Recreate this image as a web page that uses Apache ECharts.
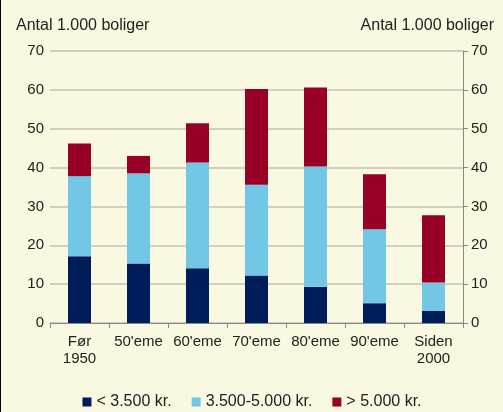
<!DOCTYPE html>
<html>
<head>
<meta charset="utf-8">
<script src="https://cdn.jsdelivr.net/npm/echarts@6/dist/echarts.min.js"></script>
<style>
  html, body { margin: 0; padding: 0; background: #f9f8e1; }
  #chart { width: 503px; height: 412px; box-sizing: border-box; border-left: 1px solid #000; }
</style>
</head>
<body>
<div id="chart"></div>
<script>
const categories = ['Før\n1950', "50'eme", "60'eme", "70'eme", "80'eme", "90'eme", 'Siden\n2000']
const seriesNames = ['< 3.500 kr.', '3.500-5.000 kr.', '> 5.000 kr.']
const lowRent = [17.2, 15.3, 14.1, 12.2, 9.3, 5.1, 3.1]
const midRent = [20.6, 23.2, 27.2, 23.4, 31.0, 19.0, 7.3]
const highRent = [8.4, 4.5, 10.1, 24.6, 20.3, 14.2, 17.3]
const colors = ['#001c5a', '#73c7e6', '#990028']

const chart = echarts.init(document.getElementById('chart'))
const font = 'Liberation Sans, Arial, sans-serif'
const yAxisBase = {
  type: 'value',
  min: 0,
  max: 70,
  interval: 10,
  axisLabel: { color: '#222', fontSize: 15, fontFamily: font },
  nameTextStyle: { color: '#222', fontSize: 16, fontFamily: font }
}
chart.setOption({
  backgroundColor: '#f9f8e1',
  animation: false,
  textStyle: { fontFamily: font },
  grid: { left: 49, right: 40, top: 51, bottom: 89, containLabel: false },
  legend: {
    top: 389,
    left: 'center',
    itemWidth: 9,
    itemHeight: 9,
    itemGap: 20,
    itemTextGap: 4,
    icon: 'rect',
    textStyle: { color: '#222', fontSize: 16, fontFamily: font },
    data: seriesNames
  },
  xAxis: {
    type: 'category',
    data: categories,
    axisLine: { show: true, lineStyle: { color: '#888', width: 1 } },
    axisTick: { show: true, length: 5, lineStyle: { color: '#888' } },
    axisLabel: { interval: 0, color: '#222', fontSize: 15, fontFamily: font, lineHeight: 17, margin: 10 }
  },
  yAxis: [
    Object.assign({}, yAxisBase, {
      position: 'left',
      name: 'Antal 1.000 boliger',
      nameLocation: 'end',
      nameGap: 17,
      nameTextStyle: Object.assign({}, yAxisBase.nameTextStyle, { align: 'left', padding: [0, 0, 0, -34] }),
      axisLabel: Object.assign({}, yAxisBase.axisLabel, { margin: 6 }),
      axisLine: { show: false },
      axisTick: { show: false },
      splitLine: { show: true, lineStyle: { color: '#c4c2b4', width: 1.5 } }
    }),
    Object.assign({}, yAxisBase, {
      position: 'right',
      name: 'Antal 1.000 boliger',
      nameLocation: 'end',
      nameGap: 17,
      nameTextStyle: Object.assign({}, yAxisBase.nameTextStyle, { align: 'right', padding: [0, -31, 0, 0] }),
      axisLabel: Object.assign({}, yAxisBase.axisLabel, { margin: 8 }),
      axisLine: { show: true, lineStyle: { color: '#888', width: 1 } },
      axisTick: { show: true, length: 5, inside: false, lineStyle: { color: '#888' } },
      splitLine: { show: false }
    })
  ],
  series: [lowRent, midRent, highRent].map((values, i) => ({
    name: seriesNames[i],
    type: 'bar',
    stack: 'total',
    barWidth: 23,
    data: values,
    itemStyle: { color: colors[i] }
  }))
})
</script>
</body>
</html>
